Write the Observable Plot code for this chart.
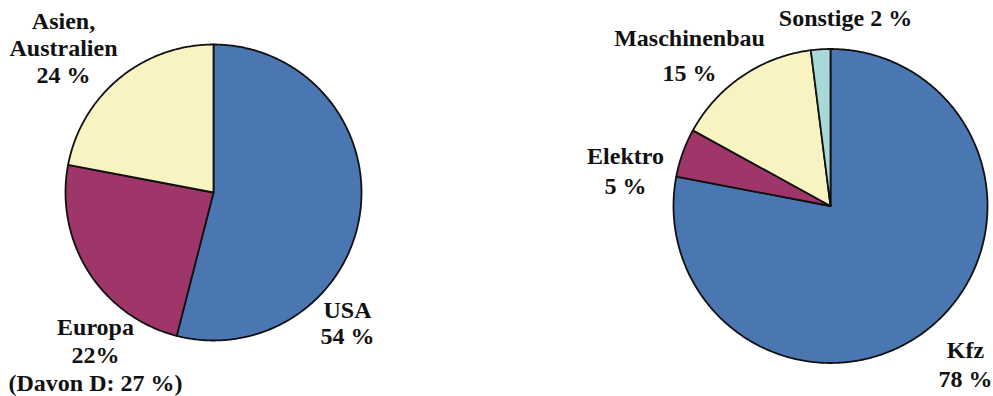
<!DOCTYPE html>
<html>
<head>
<meta charset="utf-8">
<script src="https://cdn.jsdelivr.net/npm/d3@7"></script>
<script src="https://cdn.jsdelivr.net/npm/@observablehq/plot@0.6"></script>
<style>
  html, body { margin: 0; padding: 0; background: #fff; }
  #chart svg { display: block; }
</style>
</head>
<body>
<div id="chart"></div>
<script>
// ---- Data ----
// Left pie: regions (slice sizes as drawn in the reference)
const leftCategories = ["USA", "Europa", "Asien, Australien"];
const leftShares = [54, 24, 22];
const leftLabelLines = [["USA", "54 %"], ["Europa", "22%", "(Davon D: 27 %)"], ["Asien,", "Australien", "24 %"]];

// Right pie: industries
const rightCategories = ["Kfz", "Elektro", "Maschinenbau", "Sonstige"];
const rightShares = [78, 5, 15, 2];
const rightLabelLines = [["Kfz", "78 %"], ["Elektro", "5 %"], ["Maschinenbau", "15 %"], ["Sonstige 2 %"]];

// ---- Styling / layout ----
const colorDomain = ["USA", "Europa", "Asien, Australien", "Kfz", "Elektro", "Maschinenbau", "Sonstige"];
const colorRange = ["#4a76b1", "#9e3669", "#f8f4c1", "#4a76b1", "#9e3669", "#f8f4c1", "#a9d8d8"];

const W = 993, H = 396;
const pies = [
  {cx: 213, cy: 192, r: 148, cats: leftCategories, vals: leftShares, lines: leftLabelLines,
   labelPos: [{x: 347, y: 317, lh: 26}, {x: 95, y: 334, lh: 28}, {x: 63, y: 28, lh: 27}]},
  {cx: 830, cy: 205.5, r: 157, cats: rightCategories, vals: rightShares, lines: rightLabelLines,
   labelPos: [{x: 965, y: 357, lh: 29}, {x: 625, y: 163, lh: 30}, {x: 689, y: 45, lh: 35}, {x: 845, y: 25, lh: 0}]}
];

// Build slice polygons (pixel-space GeoJSON) from d3.pie angles
const features = [];
const labels = [];
for (const p of pies) {
  const arcs = d3.pie().sort(null).value(d => d)(p.vals);
  arcs.forEach((a, i) => {
    const ring = [[p.cx, p.cy]];
    const n = Math.max(2, Math.ceil((a.endAngle - a.startAngle) / (Math.PI / 360)));
    for (let k = 0; k <= n; k++) {
      const t = a.startAngle + (a.endAngle - a.startAngle) * k / n;
      ring.push([p.cx + p.r * Math.sin(t), p.cy - p.r * Math.cos(t)]);
    }
    ring.push([p.cx, p.cy]);
    features.push({type: "Feature", properties: {cat: p.cats[i]}, geometry: {type: "Polygon", coordinates: [ring]}});
    const lp = p.labelPos[i];
    p.lines[i].forEach((line, j) => labels.push({text: line, x: lp.x, y: lp.y + j * lp.lh}));
  });
}

const chart = Plot.plot({
  width: W,
  height: H,
  margin: 0,
  projection: {type: "identity"},
  color: {domain: colorDomain, range: colorRange},
  marks: [
    Plot.geo(features, {fill: d => d.properties.cat, stroke: "#111", strokeWidth: 1.8, strokeLinejoin: "round"}),
    Plot.text(labels, {x: "x", y: "y", text: "text", textAnchor: "middle", lineAnchor: "bottom",
      fontSize: 24, fontWeight: "bold", fontFamily: "Liberation Serif, Times New Roman, serif", fill: "#111"})
  ]
});
document.getElementById("chart").appendChild(chart);
</script>
</body>
</html>
